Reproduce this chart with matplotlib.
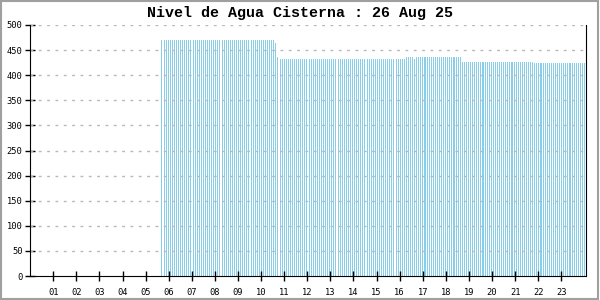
import numpy as np
import matplotlib.pyplot as plt
from matplotlib.patches import Rectangle

# Water level readings (cm), one about every 5.4 minutes from ~05:40 to midnight
start_hour = 5.684
step_hours = 0.0897
levels = [
    470, 470, 470, 470, 470, 470, 470, 470, 470, 470, 470,
    470, 470, 470, 470, 470, 470, 470, 470, 470, 470, 470,
    470, 470, 470, 470, 470, 470, 470, 470, 470, 470, 470,
    470, 470, 470, 470, 470, 470, 470, 470, 470, 470, 470,
    470, 470, 470, 470, 470, 470, 470, 470, 470, 470, 470,
    465, 437,
    432, 432, 432, 432, 432, 432, 432, 432, 432, 432, 432,
    432, 432, 432, 432, 432, 432, 432, 432, 432, 432, 432,
    432, 432, 432, 432, 432, 432, 432, 432, 432, 432, 432,
    432, 432, 432, 432, 432, 432, 432, 432, 432, 432, 432,
    432, 432, 432, 432, 432, 432, 432, 432, 432, 432, 432,
    432, 432, 432, 432, 432, 432,
    436, 436, 436, 436, 432,
    436, 436, 436, 436, 436, 436, 436, 436, 436, 436, 436,
    436, 436, 436, 436, 436, 436, 436, 436, 436, 436, 436,
    426, 426, 426, 426, 426, 426, 426, 426, 426, 426, 426,
    426, 426, 426, 426, 426, 426, 426, 426, 426, 426, 426,
    426, 426, 426, 426, 426, 426, 426, 426, 426, 426, 426,
    426, 426,
    424, 424, 424, 424, 424, 424, 424, 424, 424, 424, 424, 424,
    424, 424, 424, 424, 424, 424, 424, 424, 424, 424, 424, 424,
    424,
]
hour_ticks = list(range(1, 24))
hour_labels = ['%02d' % h for h in hour_ticks]
y_ticks = list(range(0, 501, 50))

t = start_hour + step_hours * np.arange(len(levels))

fig = plt.figure(figsize=(6, 3), dpi=100)
ax = fig.add_axes([30.2 / 600, 24 / 300, (586 - 30.2) / 600, 251 / 300])

# thin 1px bars, no smoothing (gives the striped look)
ax.bar(t, levels, width=step_hours * 0.5, align='edge', color='#87ceeb',
       edgecolor='none', linewidth=0, antialiased=False, zorder=1)

ax.set_xlim(0, 24.07)
ax.set_ylim(0, 500)
ax.set_yticks(y_ticks)
ax.set_xticks(hour_ticks)
ax.set_xticklabels(hour_labels)

for y in y_ticks[1:]:
    ax.axhline(y, color='#b8b8b8', lw=1, dashes=(2, 4), zorder=2)

ax.spines['top'].set_visible(False)
ax.spines['left'].set_color('black')
ax.spines['right'].set_color('black')
ax.spines['bottom'].set_linestyle((0, (1, 1)))
ax.spines['bottom'].set_zorder(3)

ax.tick_params(axis='both', direction='inout', length=7, width=1,
               labelsize=6.3, colors='black')
ax.tick_params(axis='x', pad=5)
ax.tick_params(axis='y', pad=2)
for lab in ax.get_xticklabels() + ax.get_yticklabels():
    lab.set_family('DejaVu Sans Mono')

fig.text(0.5, 0.955, 'Nivel de Agua Cisterna : 26 Aug 25',
         ha='center', va='center', fontsize=10.8, fontweight='bold',
         family='Liberation Mono')

fig.patches.append(Rectangle((0.001, 0.004), 0.995, 0.993,
                             transform=fig.transFigure, fill=False,
                             edgecolor='#a0a0a0', lw=1.5))

fig.savefig('out.png', dpi=100)
